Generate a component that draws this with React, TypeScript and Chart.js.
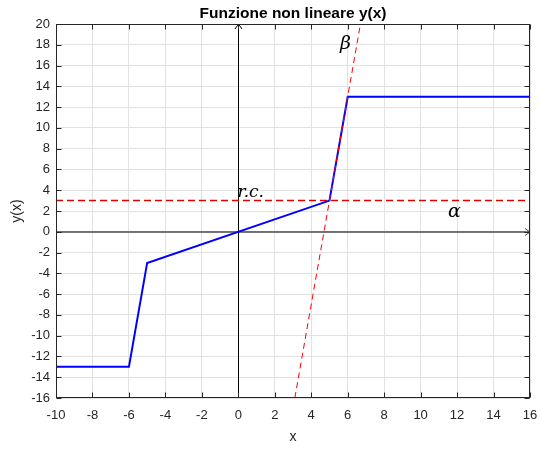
import React, { useEffect, useRef } from "react";
import { Chart, registerables } from "chart.js";

Chart.register(...registerables);

const xMin = -10;
const xMax = 16;
const yMin = -16;
const yMax = 20;
const tickStep = 2;

const curveX = [-10, -6, -5, 5, 6, 16];
const curveY = [-13, -13, -3, 3, 13, 13];

const alphaLineX = [-10, 16];
const alphaLineY = [3, 3];

const betaLineX = [3.1, 6.7];
const betaLineY = [-16, 20];

const xAxisArrowX = [-10, 16];
const xAxisArrowY = [0, 0];
const yAxisArrowX = [0, 0];
const yAxisArrowY = [-16, 20];

const textLabels = ["r.c.", "β", "α"];
const textX = [-0.05, 5.58, 11.5];
const textY = [3.35, 17.6, 1.42];

const titleText = "Funzione non lineare y(x)";
const xLabelText = "x";
const yLabelText = "y(x)";

const toPoints = (xs: number[], ys: number[]) => xs.map((x, i) => ({ x, y: ys[i] }));

const AXIS_COLOR = "#262626";
const SANS = "'Liberation Sans', Arial, Helvetica, sans-serif";
const SERIF = "'DejaVu Serif', 'Liberation Serif', serif";

const decorPlugin = {
  id: "decor",
  beforeDatasetsDraw(chart: any) {
    const { ctx } = chart;
    const xs = chart.scales.x;
    const ys = chart.scales.y;
    ctx.save();
    const ax = Math.round(xs.getPixelForValue(yAxisArrowX[0])) + 0.5;
    const ay0 = ys.getPixelForValue(yAxisArrowY[0]);
    const ay1 = ys.getPixelForValue(yAxisArrowY[1]);
    ctx.strokeStyle = "#000";
    ctx.lineWidth = 1;
    ctx.beginPath();
    ctx.moveTo(ax, ay0);
    ctx.lineTo(ax, ay1);
    ctx.stroke();
    ctx.beginPath();
    ctx.moveTo(ax - 3.5, ay1 + 5);
    ctx.lineTo(ax, ay1);
    ctx.lineTo(ax + 3.5, ay1 + 5);
    ctx.stroke();
    const by = Math.round(ys.getPixelForValue(xAxisArrowY[0]));
    const bx0 = xs.getPixelForValue(xAxisArrowX[0]);
    const bx1 = xs.getPixelForValue(xAxisArrowX[1]);
    ctx.strokeStyle = "#4a4a4a";
    ctx.lineWidth = 1.5;
    ctx.beginPath();
    ctx.moveTo(bx0, by);
    ctx.lineTo(bx1, by);
    ctx.stroke();
    ctx.lineWidth = 1;
    ctx.beginPath();
    ctx.moveTo(bx1 - 5, by - 3.5);
    ctx.lineTo(bx1, by);
    ctx.lineTo(bx1 - 5, by + 3.5);
    ctx.stroke();
    ctx.restore();
  },
  afterDatasetsDraw(chart: any) {
    const { ctx, chartArea } = chart;
    const xs = chart.scales.x;
    const ys = chart.scales.y;
    const { left, right, top, bottom } = chartArea;
    ctx.save();
    ctx.strokeStyle = AXIS_COLOR;
    ctx.lineWidth = 1;
    const L = Math.round(left) + 0.5;
    const R = Math.round(right) - 0.5;
    const T = Math.round(top) + 0.5;
    const B = Math.round(bottom) - 0.5;
    ctx.strokeRect(L, T, R - L, B - T);
    const tl = 5;
    ctx.beginPath();
    for (let v = xMin; v <= xMax; v += tickStep) {
      const px = Math.round(xs.getPixelForValue(v)) + 0.5;
      ctx.moveTo(px, B);
      ctx.lineTo(px, B - tl);
      ctx.moveTo(px, T);
      ctx.lineTo(px, T + tl);
    }
    for (let v = yMin; v <= yMax; v += tickStep) {
      const py = Math.round(ys.getPixelForValue(v)) + 0.5;
      ctx.moveTo(L, py);
      ctx.lineTo(L + tl, py);
      ctx.moveTo(R, py);
      ctx.lineTo(R - tl, py);
    }
    ctx.stroke();
    ctx.fillStyle = "#000";
    ctx.textAlign = "left";
    ctx.textBaseline = "alphabetic";
    textLabels.forEach((t, i) => {
      ctx.font = `italic ${i === 0 ? 17 : 19}px ${SERIF}`;
      ctx.fillText(t, xs.getPixelForValue(textX[i]), ys.getPixelForValue(textY[i]));
    });
    ctx.fillStyle = "#000";
    ctx.font = `bold 15.5px ${SANS}`;
    ctx.textAlign = "center";
    ctx.textBaseline = "alphabetic";
    ctx.fillText(titleText, (left + right) / 2, 18);
    ctx.fillStyle = AXIS_COLOR;
    ctx.font = `14px ${SANS}`;
    ctx.textBaseline = "middle";
    ctx.fillText(xLabelText, (left + right) / 2, 437);
    ctx.translate(17, (top + bottom) / 2);
    ctx.rotate(-Math.PI / 2);
    ctx.fillText(yLabelText, 0, 0);
    ctx.restore();
  },
};

export default function App() {
  const canvasRef = useRef<HTMLCanvasElement | null>(null);

  useEffect(() => {
    document.body.style.margin = "0";
    const canvas = canvasRef.current;
    if (!canvas) return;
    const chart = new Chart(canvas, {
      type: "scatter",
      data: {
        datasets: [
          {
            data: toPoints(betaLineX, betaLineY),
            showLine: true,
            borderColor: "#ff0000",
            borderWidth: 1,
            borderDash: [6, 4],
            pointRadius: 0,
          },
          {
            data: toPoints(curveX, curveY),
            showLine: true,
            borderColor: "#0000ff",
            borderWidth: 2,
            pointRadius: 0,
          },
          {
            data: toPoints(alphaLineX, alphaLineY),
            showLine: true,
            borderColor: "#e00000",
            borderWidth: 1.5,
            borderDash: [7, 4],
            pointRadius: 0,
          },
        ],
      },
      options: {
        responsive: false,
        animation: false,
        devicePixelRatio: 1,
        layout: { padding: { top: 24, right: 10, left: 0, bottom: 0 } },
        plugins: {
          legend: { display: false },
          tooltip: { enabled: false },
          title: { display: false },
        },
        scales: {
          x: {
            type: "linear",
            min: xMin,
            max: xMax,
            border: { display: false },
            grid: { color: "#e2e2e2", drawTicks: false, lineWidth: 1 },
            ticks: {
              stepSize: tickStep,
              padding: 10,
              color: AXIS_COLOR,
              font: { family: SANS, size: 13 },
              maxRotation: 0,
              autoSkip: false,
            },
            afterFit: (s: any) => {
              s.height = 51;
              s.paddingLeft = 0;
              s.paddingRight = 0;
            },
          },
          y: {
            type: "linear",
            min: yMin,
            max: yMax,
            border: { display: false },
            grid: { color: "#e2e2e2", drawTicks: false, lineWidth: 1 },
            ticks: {
              stepSize: tickStep,
              padding: 6,
              color: AXIS_COLOR,
              font: { family: SANS, size: 13 },
              autoSkip: false,
            },
            afterFit: (s: any) => {
              s.width = 56;
              s.paddingTop = 0;
              s.paddingBottom = 0;
            },
          },
        },
      },
      plugins: [decorPlugin],
    });
    return () => chart.destroy();
  }, []);

  return (
    <div style={{ position: "absolute", left: 0, top: 0, width: 540, height: 449, background: "#fff" }}>
      <canvas ref={canvasRef} width={540} height={449} />
    </div>
  );
}
